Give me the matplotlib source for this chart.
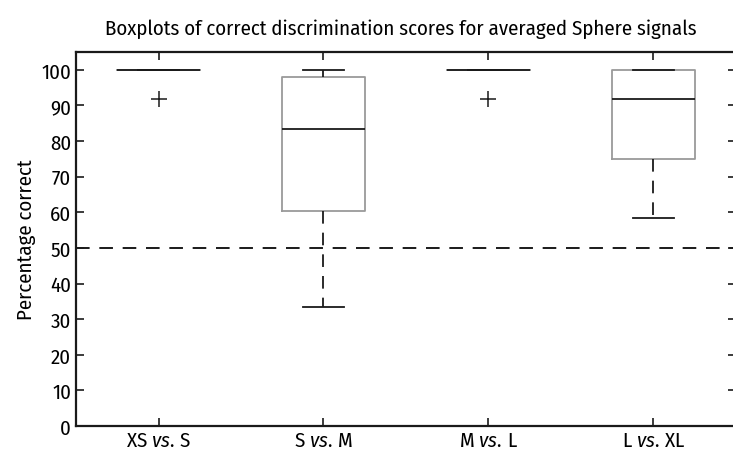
import matplotlib.pyplot as plt

plt.rcParams['font.family'] = ['Fira Sans Condensed', 'DejaVu Sans']
plt.rcParams['mathtext.fontset'] = 'custom'
plt.rcParams['mathtext.rm'] = 'Fira Sans Condensed'
plt.rcParams['mathtext.it'] = 'Fira Sans Condensed:italic'

# data
labels = [r'XS $\it{vs.}\,$S', r'S $\it{vs.}\,$M', r'M $\it{vs.}\,$L', r'L $\it{vs.}\,$XL']
whislo = [100, 33.3, 100, 58.3]
q1 = [100, 60.4, 100, 75.0]
med = [100, 83.3, 100, 91.7]
q3 = [100, 97.9, 100, 100]
whishi = [100, 100, 100, 100]
fliers = [[91.7], [], [91.7], []]
chance = 50

stats = []
for i in range(len(labels)):
    stats.append(dict(whislo=whislo[i], q1=q1[i], med=med[i], q3=q3[i],
                      whishi=whishi[i], fliers=fliers[i]))

fig = plt.figure(figsize=(7.33, 4.6), dpi=100)
ax = fig.add_axes([76/733, 33/460, 660/733, 374/460])

dash = (0, (7, 5))
ax.bxp(stats, positions=[1, 2, 3, 4], widths=0.5,
       boxprops=dict(color='#9a9a9a', linewidth=1.3),
       medianprops=dict(color='#1a1a1a', linewidth=1.3),
       whiskerprops=dict(color='#1a1a1a', linewidth=1.3, linestyle=dash),
       capprops=dict(color='#1a1a1a', linewidth=1.3),
       flierprops=dict(marker='+', markeredgecolor='#1a1a1a', markersize=11, markeredgewidth=1.1))

ax.axhline(chance, color='#1a1a1a', linestyle=dash, linewidth=1.4)

ax.set_xlim(0.5, 4.5)
ax.set_ylim(0, 105)
ax.set_yticks(range(0, 101, 10))
ax.set_xticks([1, 2, 3, 4])
ax.set_xticklabels(labels)
ax.tick_params(direction='in', top=True, right=True, labelsize=15, length=6, width=1.2, color='#1a1a1a')
for s in ax.spines.values():
    s.set_linewidth(1.6)
    s.set_color('#1a1a1a')
ax.set_ylabel('Percentage correct', fontsize=15)
ax.set_title('Boxplots of correct discrimination scores for averaged Sphere signals',
             fontsize=15, pad=13, x=(401 - 76) / 660)

fig.savefig('out.png', dpi=100)
